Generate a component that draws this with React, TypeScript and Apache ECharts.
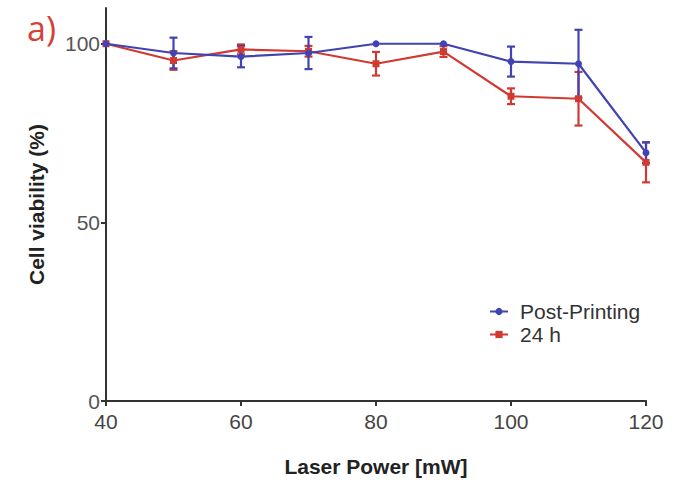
import React, { useEffect, useRef } from "react";
import * as echarts from "echarts";

const laserPower = [40, 50, 60, 70, 80, 90, 100, 110, 120];
const postMean = [100, 97.4, 96.4, 97.4, 100, 100, 95, 94.4, 69.5];
const postErr = [0, 4.3, 3, 4.5, 0, 0, 4.2, 9.5, 2.9];
const h24Mean = [100, 95.3, 98.4, 97.9, 94.4, 97.8, 85.3, 84.6, 66.8];
const h24Err = [0, 2.6, 1.4, 1.5, 3.3, 1.5, 2.2, 7.5, 5.6];
const xTicks = [40, 60, 80, 100, 120];
const yTicks = [0, 50, 100];

const BLUE = "#4043b0";
const RED = "#d13a32";

function errorSeries(name: string, mean: number[], err: number[], color: string) {
  return {
    type: "custom",
    name: name + "-err",
    silent: true,
    z: 3,
    data: laserPower.map((x, i) => [x, mean[i] - err[i], mean[i] + err[i]]),
    renderItem: (params: any, api: any) => {
      const x = api.value(0);
      const lo = api.coord([x, api.value(1)]);
      const hi = api.coord([x, api.value(2)]);
      const cap = 4;
      const style = { stroke: color, lineWidth: 2.2 };
      if (Math.abs(hi[1] - lo[1]) < 1) return { type: "group", children: [] };
      return {
        type: "group",
        children: [
          { type: "line", shape: { x1: lo[0], y1: lo[1], x2: hi[0], y2: hi[1] }, style },
          { type: "line", shape: { x1: lo[0] - cap, y1: lo[1], x2: lo[0] + cap, y2: lo[1] }, style },
          { type: "line", shape: { x1: hi[0] - cap, y1: hi[1], x2: hi[0] + cap, y2: hi[1] }, style },
        ],
      };
    },
  };
}

export default function App() {
  const ref = useRef<HTMLDivElement>(null);
  useEffect(() => {
    if (!ref.current) return;
    const chart = echarts.init(ref.current, null, { renderer: "svg" });
    const font = "'Liberation Sans', Arial, sans-serif";
    chart.setOption({
      animation: false,
      textStyle: { fontFamily: font },
      grid: { left: 106, right: 41, top: 8, bottom: 81 },
      xAxis: {
        type: "value",
        min: 40,
        max: 120,
        interval: 20,
        name: "Laser Power [mW]",
        nameLocation: "middle",
        nameGap: 55,
        nameTextStyle: { fontSize: 21, fontWeight: "bold", color: "#222", fontFamily: font },
        axisLine: { lineStyle: { color: "#333", width: 2 } },
        axisTick: { show: true, length: 5, lineStyle: { color: "#333", width: 2 }, customValues: xTicks },
        axisLabel: { fontSize: 21, color: "#444", margin: 10, customValues: xTicks },
        splitLine: { show: false },
      },
      yAxis: {
        type: "value",
        min: 0,
        max: 110,
        interval: 50,
        name: "Cell viability (%)",
        nameLocation: "middle",
        nameGap: 59,
        nameTextStyle: { fontSize: 21, fontWeight: "bold", color: "#222", fontFamily: font },
        axisLine: { show: true, lineStyle: { color: "#333", width: 2 } },
        axisTick: { show: true, length: 5, lineStyle: { color: "#333", width: 2 }, customValues: yTicks },
        axisLabel: { fontSize: 21, color: "#555", margin: 6, customValues: yTicks },
        splitLine: { show: false },
      },
      legend: {
        orient: "vertical",
        left: 484,
        top: 296,
        itemWidth: 18,
        itemHeight: 9,
        itemGap: 2,
        textStyle: { fontSize: 21, color: "#333", fontFamily: font, padding: [0, 0, 0, 7] },
        data: ["Post-Printing", "24 h"],
      },
      graphic: [
        {
          type: "text",
          left: 27,
          top: 11,
          style: { text: "a)", fontSize: 34, fill: "#d6403a", fontFamily: "'Open Sans', sans-serif" },
        },
      ],
      series: [
        errorSeries("24 h", h24Mean, h24Err, RED),
        errorSeries("Post-Printing", postMean, postErr, BLUE),
        {
          type: "line",
          name: "24 h",
          data: laserPower.map((x, i) => [x, h24Mean[i]]),
          symbol: "rect",
          symbolSize: 7,
          lineStyle: { color: RED, width: 2.2 },
          itemStyle: { color: RED },
          z: 4,
        },
        {
          type: "line",
          name: "Post-Printing",
          data: laserPower.map((x, i) => [x, postMean[i]]),
          symbol: "circle",
          symbolSize: 7,
          lineStyle: { color: BLUE, width: 2.2 },
          itemStyle: { color: BLUE },
          z: 5,
        },
      ],
    });
    return () => chart.dispose();
  }, []);
  return <div ref={ref} style={{ width: 687, height: 482, position: "absolute", left: 0, top: 0 }} />;
}
